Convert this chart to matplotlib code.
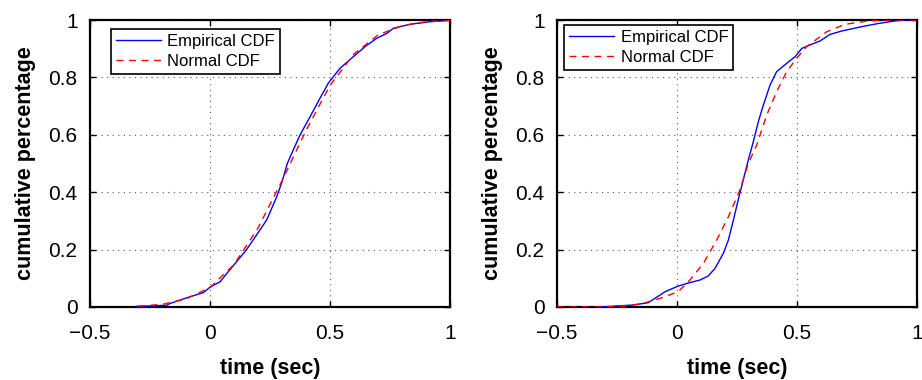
import matplotlib
matplotlib.use("Agg")
import matplotlib.pyplot as plt
from matplotlib.ticker import FixedLocator, FixedFormatter

plt.rcParams['font.family'] = ['Liberation Sans', 'DejaVu Sans']

# ---- data ----
left_emp_x = [-0.306, -0.181, -0.167, -0.139, -0.083, -0.028, 0.0, 0.042, 0.076, 0.111, 0.153,
              0.194, 0.236, 0.278, 0.300, 0.322, 0.350, 0.375, 0.417, 0.458, 0.493, 0.542, 0.597,
              0.646, 0.694, 0.736, 0.764, 0.833, 0.917, 0.97, 1.0]
left_emp_y = [0.002, 0.006, 0.012, 0.020, 0.036, 0.050, 0.069, 0.088, 0.123, 0.158, 0.201,
              0.251, 0.303, 0.384, 0.436, 0.500, 0.553, 0.599, 0.663, 0.727, 0.780, 0.832, 0.872,
              0.907, 0.936, 0.953, 0.971, 0.985, 0.994, 0.997, 1.0]
left_norm_x = [-0.3, -0.2, -0.1, 0.0, 0.1, 0.2, 0.3, 0.4, 0.5, 0.6, 0.7, 0.8, 0.9, 1.0]
left_norm_y = [0.003, 0.009, 0.028, 0.068, 0.148, 0.275, 0.44, 0.615, 0.772, 0.882, 0.948, 0.98, 0.994, 0.999]

right_emp_x = [-0.321, -0.182, -0.120, -0.092, -0.05, -0.001, 0.040, 0.096, 0.130, 0.158, 0.193,
               0.214, 0.235, 0.255, 0.276, 0.297, 0.318, 0.339, 0.360, 0.388, 0.415, 0.457,
               0.492, 0.520, 0.554, 0.596, 0.638, 0.688, 0.771, 0.840, 0.910, 0.95, 1.0]
right_emp_y = [0.0, 0.007, 0.015, 0.030, 0.053, 0.071, 0.082, 0.094, 0.108, 0.134, 0.187,
               0.233, 0.303, 0.373, 0.443, 0.512, 0.576, 0.646, 0.704, 0.774, 0.820, 0.849,
               0.872, 0.901, 0.913, 0.927, 0.950, 0.962, 0.977, 0.988, 0.997, 1.0, 1.0]
right_norm_x = [-0.5, -0.3, -0.2, -0.14, -0.071, 0.005, 0.054, 0.11, 0.165, 0.214, 0.262, 0.297,
                0.332, 0.374, 0.415, 0.457, 0.499, 0.540, 0.624, 0.7, 0.8, 0.9, 1.0]
right_norm_y = [0.0, 0.0, 0.004, 0.013, 0.030, 0.053, 0.094, 0.152, 0.233, 0.314, 0.408, 0.50,
                0.564, 0.669, 0.750, 0.820, 0.867, 0.907, 0.959, 0.985, 0.997, 1.0, 1.0]

x_ticks = [-0.5, 0, 0.5, 1]
x_tick_labels = ['\u22120.5', '0', '0.5', '1']
y_ticks = [0, 0.2, 0.4, 0.6, 0.8, 1]
y_tick_labels = ['0', '0.2', '0.4', '0.6', '0.8', '1']
series_labels = ['Empirical CDF', 'Normal CDF']
x_label = 'time (sec)'
y_label = 'cumulative percentage'

fig = plt.figure(figsize=(9.22, 3.8), dpi=100)
W, H = 922, 380
ax1 = fig.add_axes([90 / W, (H - 307) / H, 360 / W, 287 / H])
ax2 = fig.add_axes([557 / W, (H - 307) / H, 360 / W, 287 / H])

panels = [
    (ax1, left_emp_x, left_emp_y, left_norm_x, left_norm_y, (0.0575, 0.968)),
    (ax2, right_emp_x, right_emp_y, right_norm_x, right_norm_y, (0.02, 0.983)),
]

for ax, ex, ey, nx, ny, anchor in panels:
    ax.plot(ex, ey, color='#0000ff', lw=1.0, label=series_labels[0], zorder=3)
    ax.plot(nx, ny, color='#ff0000', lw=1.0, ls=(0, (5, 4)), label=series_labels[1], zorder=4)
    ax.set_xlim(-0.5, 1.0)
    ax.set_ylim(0, 1)
    ax.xaxis.set_major_locator(FixedLocator(x_ticks))
    ax.xaxis.set_major_formatter(FixedFormatter(x_tick_labels))
    ax.yaxis.set_major_locator(FixedLocator(y_ticks))
    ax.yaxis.set_major_formatter(FixedFormatter(y_tick_labels))
    ax.tick_params(direction='in', length=4, width=1, labelsize=15, pad=9,
                   top=True, right=True)
    ax.tick_params(axis='x', pad=12)
    ax.grid(True, color='#555555', ls=(0, (1, 4)), lw=0.8)
    for s in ax.spines.values():
        s.set_linewidth(1.6)
    ax.set_xlabel(x_label, fontsize=15.5, fontweight='bold', labelpad=11)
    ax.set_ylabel(y_label, fontsize=15.5, fontweight='bold', labelpad=9)
    leg = ax.legend(loc='upper left', bbox_to_anchor=anchor, fontsize=12,
                    fancybox=False, framealpha=1, edgecolor='black',
                    handlelength=2.7, borderpad=0.3, labelspacing=0.3,
                    handletextpad=0.4, borderaxespad=0)
    leg.get_frame().set_linewidth(1.2)

fig.savefig('out.png', dpi=100)
